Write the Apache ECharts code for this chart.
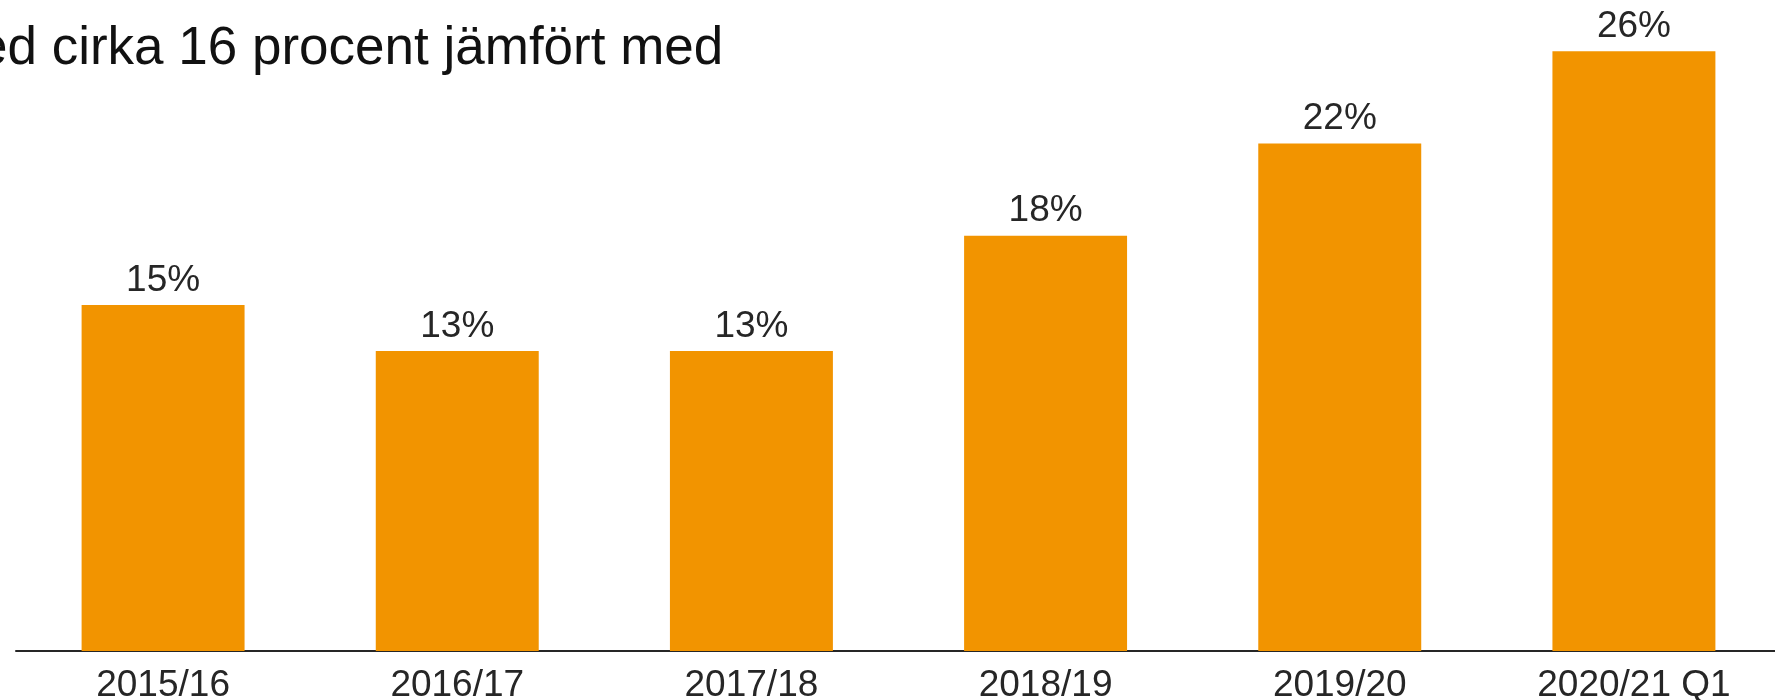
<!DOCTYPE html>
<html>
<head>
<meta charset="utf-8">
<script src="https://cdn.jsdelivr.net/npm/echarts@6/dist/echarts.min.js"></script>
<style>
  html, body { margin: 0; padding: 0; background: #fff; }
  #chart { width: 1775px; height: 700px; }
</style>
</head>
<body>
<div id="chart"></div>
<script>
// andel per år (procent)
const categories = ['2015/16', '2016/17', '2017/18', '2018/19', '2019/20', '2020/21 Q1']
const shares = [15, 13, 13, 18, 22, 26]
const titleText = 'ed cirka 16 procent jämfört med'

const font = '"Liberation Sans", Arial, Helvetica, sans-serif'
const textColor = '#262626'

let myChart = echarts.init(document.getElementById('chart'))
let option = {
  animation: false,
  title: {
    text: titleText,
    left: -22,
    top: 23,
    padding: 0,
    textStyle: {
      fontFamily: font,
      fontSize: 53,
      fontWeight: 'normal',
      color: '#111'
    }
  },
  grid: {
    left: 16,
    width: 1765,
    top: 5,
    bottom: 49,
    containLabel: false,
    outerBoundsMode: 'none'
  },
  xAxis: {
    type: 'category',
    data: categories,
    boundaryGap: true,
    axisTick: { show: false },
    axisLine: {
      lineStyle: { color: '#262626', width: 2 }
    },
    axisLabel: {
      margin: 16,
      fontFamily: font,
      fontSize: 37,
      color: textColor
    }
  },
  yAxis: {
    type: 'value',
    min: 0,
    max: 28,
    show: false,
    splitLine: { show: false }
  },
  series: [{
    type: 'bar',
    data: shares,
    barWidth: '55.4%',
    itemStyle: { color: '#F29400' },
    label: {
      show: true,
      position: 'top',
      distance: 6,
      formatter: '{c}%',
      fontFamily: font,
      fontSize: 37,
      color: textColor
    }
  }]
}
myChart.setOption(option)
</script>
</body>
</html>
